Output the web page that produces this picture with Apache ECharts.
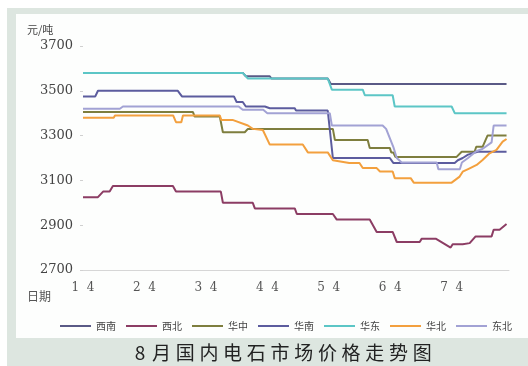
<!DOCTYPE html>
<html>
<head>
<meta charset="utf-8">
<script src="https://cdn.jsdelivr.net/npm/echarts@6/dist/echarts.min.js"></script>
<style>
  html, body { margin: 0; padding: 0; background: #ffffff; }
  #main { width: 528px; height: 366px; }
</style>
</head>
<body>
<div id="main"></div>
<script>
// x = 天数(从 1 4 起), y = 元/吨
const titleText = '8 月国内电石市场价格走势图'
const xTickLabels = ['1  4', '2  4', '3  4', '4  4', '5  4', '6  4', '7  4']
const regionNames = ['西南', '西北', '华中', '华南', '华东', '华北', '东北']
const regionColors = ['#5a5a86', '#8c3d64', '#7e7e3e', '#5c5c9e', '#5cc6c6', '#f3a03e', '#a2a2d4']

const xinan = [[0, 3580], [78, 3580], [79.5, 3565], [91.2, 3565], [92, 3555], [119.5, 3555], [121, 3530], [206.8, 3530]]
const xibei = [[0, 3025], [7.3, 3025], [9.8, 3050], [13, 3050], [14.6, 3075], [43.9, 3075], [45.4, 3050], [67.3, 3050],
  [68.3, 3000], [82.9, 3000], [83.9, 2975], [103.4, 2975], [104.4, 2950], [122, 2950], [123.9, 2925], [140, 2925],
  [143.4, 2870], [151.2, 2870], [153.2, 2825], [164.4, 2825], [165.4, 2840], [172.2, 2840], [179.5, 2800], [180.5, 2815],
  [185.4, 2815], [186.3, 2820], [188.8, 2820], [191.7, 2850], [199.5, 2850], [200.5, 2880], [203.4, 2880], [206.8, 2905]]
const huazhong = [[0, 3405], [53.7, 3405], [54.5, 3385], [66.8, 3385], [68.3, 3315], [79, 3315], [80.5, 3330], [122, 3330],
  [123, 3280], [139, 3280], [140, 3245], [149.8, 3245], [150.5, 3225], [151.5, 3225], [152.5, 3205], [182.4, 3205],
  [184.9, 3228], [191.2, 3228], [192, 3250], [195.1, 3250], [197.5, 3300], [206.8, 3300]]
const huanan = [[0, 3475], [6, 3475], [7.3, 3500], [46.3, 3500], [48.3, 3475], [73.7, 3475], [75, 3450], [78, 3450],
  [79.5, 3430], [88.8, 3430], [91.2, 3422], [103.4, 3422], [104, 3412], [119.5, 3412], [122, 3200], [149.8, 3200],
  [151.5, 3178], [181.5, 3178], [183, 3190], [185.4, 3200], [188, 3215], [192.7, 3228], [206.8, 3228]]
const huadong = [[0, 3580], [78, 3580], [80.5, 3555], [119.5, 3555], [121.5, 3505], [136.6, 3505], [137.6, 3480],
  [151.2, 3480], [152.2, 3430], [180, 3430], [181.5, 3400], [206.8, 3400]]
const huabei = [[0, 3380], [15, 3380], [15.6, 3390], [44, 3390], [45.4, 3360], [48, 3360], [48.8, 3390], [66.8, 3390],
  [67.5, 3370], [73, 3370], [80.5, 3345], [82.9, 3330], [87.8, 3325], [91.2, 3260], [107.3, 3260], [109.8, 3225],
  [119.5, 3225], [122, 3190], [130, 3178], [135, 3178], [136.6, 3155], [143.4, 3155], [145, 3140], [151.2, 3140],
  [152.2, 3110], [160, 3110], [161.5, 3090], [180, 3090], [180.5, 3094], [183.9, 3117], [185.4, 3139], [188.8, 3154],
  [192.2, 3169], [195.1, 3191], [198.5, 3221], [201.9, 3236], [204.9, 3273], [206.8, 3285]]
const dongbei = [[0, 3420], [18, 3420], [19.5, 3430], [76, 3430], [78, 3415], [88, 3415], [90, 3400], [120.5, 3400],
  [121.5, 3345], [146.3, 3345], [148, 3330], [151.5, 3250], [153.2, 3200], [155.6, 3180], [172.7, 3180], [173.5, 3150],
  [184, 3150], [185, 3180], [188, 3200], [192, 3230], [195, 3240], [199.5, 3270], [200.5, 3345], [206.8, 3345]]

const seriesData = [xinan, xibei, huazhong, huanan, huadong, huabei, dongbei]

// 标题逐字排开 (字距较宽)
const titleChars = []
let tx = 140
for (const ch of titleText) {
  if (ch === ' ') { tx += 8; continue }
  titleChars.push({
    type: 'text', x: tx, y: 353, silent: true,
    style: { text: ch, font: '19px "Noto Sans CJK SC"', fill: '#222', align: 'center', verticalAlign: 'middle' }
  })
  tx += /[\x00-\x7f]/.test(ch) ? 13.5 : 23.7
}

const chart = echarts.init(document.getElementById('main'), null, { renderer: 'canvas' })

const option = {
  animation: false,
  backgroundColor: '#ffffff',
  graphic: [
    { type: 'rect', z: -10, silent: true, shape: { x: 7, y: 8, width: 521, height: 358 }, style: { fill: '#dde6e0' } },
    { type: 'rect', z: -9, silent: true, shape: { x: 16, y: 14, width: 512, height: 324 }, style: { fill: '#fdfefd' } },
    { type: 'text', left: 27, top: 24, style: { text: '元/吨', font: '11px "Noto Sans CJK SC"', fill: '#444' } },
    { type: 'text', left: 27, top: 290, style: { text: '日期', font: '12px "Noto Sans CJK SC"', fill: '#555' } },
    { type: 'group', children: titleChars }
  ],
  legend: {
    left: 55,
    top: 316,
    icon: 'rect',
    itemWidth: 31,
    itemHeight: 2,
    itemGap: 10,
    textStyle: { fontSize: 10, color: '#444', fontFamily: 'Noto Sans CJK SC' },
    data: regionNames
  },
  grid: { left: 83, right: 19, top: 46, bottom: 96, containLabel: false },
  xAxis: {
    type: 'value',
    min: 0,
    max: 208,
    interval: 30,
    axisLine: { show: true, lineStyle: { color: '#d6d6d6', width: 1 } },
    axisTick: { show: false },
    splitLine: { show: false },
    axisLabel: {
      margin: 12,
      color: '#555',
      fontFamily: 'DejaVu Serif',
      fontSize: 12,
      showMaxLabel: false,
      formatter: v => (v % 30 === 0 && v / 30 < xTickLabels.length) ? xTickLabels[v / 30] : ''
    }
  },
  yAxis: {
    type: 'value',
    min: 2700,
    max: 3700,
    interval: 200,
    axisLine: { show: false },
    axisTick: { show: true, length: 3, lineStyle: { color: '#d0d0d0' } },
    splitLine: { show: false },
    axisLabel: { margin: 10, color: '#444', fontFamily: 'DejaVu Serif', fontSize: 13, formatter: v => String(v) }
  },
  series: seriesData.map((d, i) => ({
    name: regionNames[i],
    type: 'line',
    data: d,
    showSymbol: false,
    symbol: 'none',
    color: regionColors[i],
    lineStyle: { width: 2, color: regionColors[i] }
  }))
}

chart.setOption(option)
</script>
</body>
</html>
